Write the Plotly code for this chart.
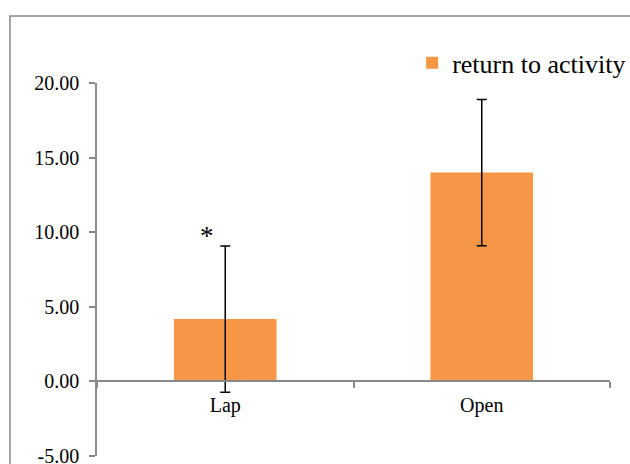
import plotly.graph_objects as go

# Data
categories = ["Lap", "Open"]
values = [4.18, 14.0]
errors = [4.9, 4.9]
series_name = "return to activity"
y_tick_vals = [-5, 0, 5, 10, 15, 20]
y_tick_text = ["-5.00", "0.00", "5.00", "10.00", "15.00", "20.00"]
marker_text = "*"

FONT = "Liberation Serif, Times New Roman, serif"
AXIS_GRAY = "#898989"

fig = go.Figure()
fig.add_trace(go.Bar(
    x=categories,
    y=values,
    name=series_name,
    marker=dict(color="#F79646", line=dict(width=0)),
    error_y=dict(type="data", array=errors, visible=True,
                 color="black", thickness=1.5, width=5),
    showlegend=True,
))

# significance marker above the first bar's error bar
fig.add_annotation(
    x=categories[0], y=values[0] + errors[0],
    text=marker_text, showarrow=False,
    xshift=-18, yshift=10,
    font=dict(family=FONT, size=27, color="black"),
)

# outer frame around the chart area
fig.add_shape(type="rect", xref="paper", yref="paper",
              x0=-0.1696, x1=1.25, y0=-0.3, y1=1.1796,
              line=dict(color=AXIS_GRAY, width=1.5), fillcolor="rgba(0,0,0,0)",
              layer="below")

fig.update_layout(
    width=630, height=464,
    margin=dict(l=97, r=20, t=83, b=8, autoexpand=False),
    paper_bgcolor="white", plot_bgcolor="white",
    bargap=0.6,
    font=dict(family=FONT, size=20, color="black"),
    legend=dict(x=0.6143, y=1.117, xanchor="left", yanchor="top",
                font=dict(family=FONT, size=26, color="black"),
                bgcolor="rgba(0,0,0,0)", borderwidth=0),
    xaxis=dict(
        range=[-0.5, 1.5], anchor="free", position=0.2,
        showline=True, linecolor=AXIS_GRAY, linewidth=1.5,
        ticks="outside", tickson="boundaries", ticklen=6, tickwidth=1.5,
        tickcolor=AXIS_GRAY, showgrid=False, zeroline=False,
        tickfont=dict(family=FONT, size=20, color="black"),
        ticklabelstandoff=6, automargin=False,
    ),
    yaxis=dict(
        range=[-5, 20], tickvals=y_tick_vals, ticktext=y_tick_text,
        showline=True, linecolor=AXIS_GRAY, linewidth=1.5,
        ticks="outside", ticklen=6, tickwidth=1.5, tickcolor=AXIS_GRAY,
        showgrid=False, zeroline=False,
        tickfont=dict(family=FONT, size=20, color="black"),
        ticklabelstandoff=6, ticklabeloverflow="allow", automargin=False,
    ),
)

fig.write_html("out.html")
